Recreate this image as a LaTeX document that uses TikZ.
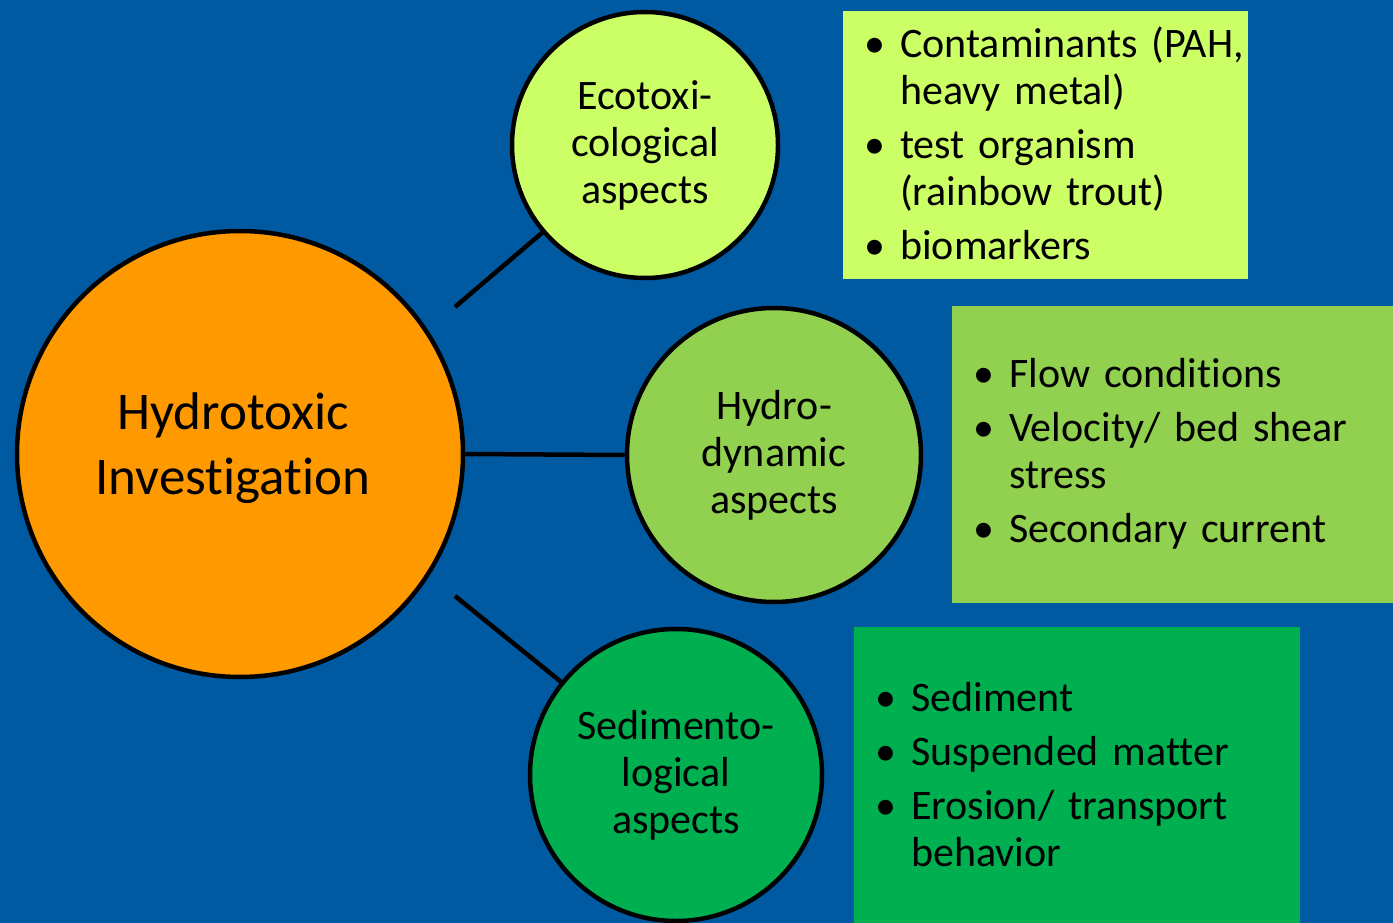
\documentclass[tikz,border=0pt]{standalone}
\usepackage{fontspec}
\setmainfont{Carlito}[Ligatures={NoCommon}]

\definecolor{seablue}{RGB}{0,90,162}
\definecolor{limegreen}{RGB}{204,255,102}
\definecolor{midgreen}{RGB}{146,208,80}
\definecolor{deepgreen}{RGB}{0,176,80}
\definecolor{sunorange}{RGB}{255,153,0}

\newcommand{\boxfont}{\fontsize{42}{47}\selectfont}
\newcommand{\bigfont}{\fontsize{53}{65}\selectfont}

\newenvironment{dotlist}{%
  \begin{list}{\textbullet}{%
    \setlength{\leftmargin}{37pt}%
    \setlength{\labelsep}{15pt}%
    \setlength{\labelwidth}{22pt}%
    \setlength{\itemsep}{7pt}%
    \setlength{\topsep}{0pt}%
    \setlength{\partopsep}{0pt}%
    \setlength{\parsep}{0pt}}}%
  {\end{list}}

\begin{document}
\begin{tikzpicture}[x=1pt, y=-1pt,
    circ/.style={circle, draw=black, line width=4.5pt, align=center, inner sep=0pt, font=\boxfont},
    infobox/.style={rectangle, inner sep=0pt, anchor=north west},
    infolist/.style={anchor=west, inner sep=0pt, text width=440pt, font=\boxfont},
    link/.style={line width=4.5pt}]

    \fill[seablue] (0, 0) rectangle (1393, 923);
    \useasboundingbox (0, 0) rectangle (1393, 923);

    % circles
    \node[circ, fill=sunorange, minimum size=446pt] (hydrotox) at (240, 454) {};
    \node[align=center, font=\bigfont, inner sep=0pt] (hydrotoxtext) at ([xshift=-7pt, yshift=6pt]hydrotox.center) {Hydrotoxic\\Investigation};
    \node[circ, fill=limegreen, minimum size=266pt] (ecotox) at (645, 145) {Ecotoxi-\\cological\\aspects};
    \node[circ, fill=midgreen, minimum size=294pt] (hydro) at (774, 455) {Hydro-\\dynamic\\aspects};
    \node[circ, fill=deepgreen, minimum size=292pt] (sedi) at (676, 775) {Sedimento-\\logical\\aspects};

    % connectors
    \coordinate (ecofree) at (455, 307);
    \coordinate (sedifree) at (455, 596);
    \draw[link] (ecofree) -- (ecotox);
    \draw[link] (hydrotox.east) -- (hydro.west);
    \draw[link] (sedifree) -- (sedi);

    % info boxes
    \node[infobox, fill=limegreen, minimum width=405pt, minimum height=268pt] (ecobox) at (843, 11) {};
    \node[infobox, fill=midgreen, minimum width=441pt, minimum height=297pt] (hydrobox) at (952, 306) {};
    \node[infobox, fill=deepgreen, minimum width=446pt, minimum height=296pt] (sedibox) at (854, 627) {};

    \node[infolist] (ecolist) at ([xshift=20pt, yshift=10pt]ecobox.west) {%
      \begin{dotlist}
        \item Contaminants (PAH,\\heavy metal)
        \item test organism\\(rainbow trout)
        \item biomarkers
      \end{dotlist}};
    \node[infolist] (hydrolist) at ([xshift=20pt, yshift=10pt]hydrobox.west) {%
      \begin{dotlist}
        \item Flow conditions
        \item Velocity/ bed shear\\stress
        \item Secondary current
      \end{dotlist}};
    \node[infolist] (sedilist) at ([xshift=20pt, yshift=10pt]sedibox.west) {%
      \begin{dotlist}
        \item Sediment
        \item Suspended matter
        \item Erosion/ transport\\behavior
      \end{dotlist}};

\end{tikzpicture}
\end{document}
